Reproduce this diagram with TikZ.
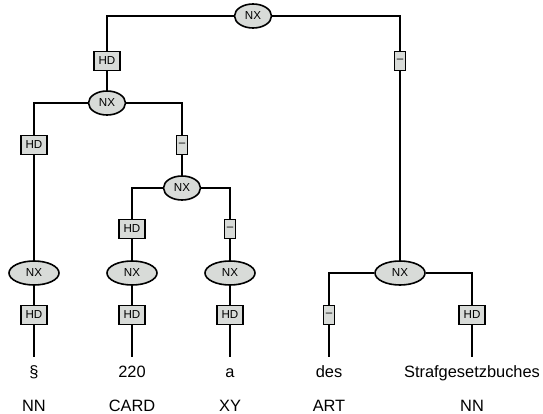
\documentclass[tikz,border=0pt]{standalone}
\usepackage{fontspec}
\setmainfont{Liberation Sans}
\usetikzlibrary{shapes.geometric}
\definecolor{nodegray}{RGB}{216,219,216}
\begin{document}
\begin{tikzpicture}[
  x=0.75pt, y=-0.75pt,
  catnode/.style={ellipse, draw=black, fill=nodegray, line width=1.2pt,
    inner sep=0pt, minimum width=27.75pt, minimum height=18pt,
    font=\fontsize{8.7}{10}\selectfont},
  widecat/.style={catnode, minimum width=37.5pt},
  funcbox/.style={rectangle, draw=black, fill=nodegray, line width=1.2pt,
    inner sep=0pt, minimum width=19.5pt, minimum height=14.25pt,
    font=\fontsize{8.7}{10}\selectfont},
  dashbox/.style={funcbox, minimum width=8.25pt},
  word/.style={anchor=base, inner sep=0pt, text height=15pt,
    font=\fontsize{12.3}{14}\selectfont},
  tag/.style={anchor=base, inner sep=0pt, font=\fontsize{12.3}{14}\selectfont},
  edge/.style={line width=1.2pt, black},
]
\useasboundingbox (0,0) rectangle (543,414);

% Top level
\node[catnode] (nxtop) at (253,16)  {NX};
\node[funcbox] (hdA)   at (107,61)  {HD};
\node[dashbox] (rA)    at (400,61)  {–};

% Left subtree
\node[catnode] (nxL) at (107,103) {NX};
\node[funcbox] (hdB) at (34,145)  {HD};
\node[dashbox] (rB)  at (182,145) {–};
\node[catnode] (nxM) at (182,188) {NX};
\node[funcbox] (hdC) at (132,229) {HD};
\node[dashbox] (rC)  at (230,229) {–};

% Preterminal row
\node[widecat] (nx1) at (34,273)  {NX};
\node[widecat] (nx2) at (132,273) {NX};
\node[widecat] (nx3) at (230,273) {NX};
\node[widecat] (nxR) at (400,273) {NX};

\node[funcbox] (hd1) at (34,315)  {HD};
\node[funcbox] (hd2) at (132,315) {HD};
\node[funcbox] (hd3) at (230,315) {HD};
\node[dashbox] (rD)  at (329,315) {–};
\node[funcbox] (hdD) at (472,315) {HD};

% Words and their tags
\node[word] (w1) at (34,377)  {§};
\node[word] (w2) at (132,377) {220};
\node[word] (w3) at (230,377) {a};
\node[word] (w4) at (329,377) {des};
\node[word] (w5) at (472,377) {Strafgesetzbuches};

\node[tag] (t1) at (34,411)  {NN};
\node[tag] (t2) at (132,411) {CARD};
\node[tag] (t3) at (230,411) {XY};
\node[tag] (t4) at (329,411) {ART};
\node[tag] (t5) at (472,411) {NN};

% Edges
\draw[edge] (nxtop) -| (hdA);
\draw[edge] (hdA) -- (nxL);
\draw[edge] (nxtop) -| (rA);
\draw[edge] (rA) -- (nxR);

\draw[edge] (nxL) -| (hdB);
\draw[edge] (hdB) -- (nx1);
\draw[edge] (nxL) -| (rB);
\draw[edge] (rB) -- (nxM);

\draw[edge] (nxM) -| (hdC);
\draw[edge] (hdC) -- (nx2);
\draw[edge] (nxM) -| (rC);
\draw[edge] (rC) -- (nx3);

\draw[edge] (nx1) -- (hd1);
\draw[edge] (hd1) -- (w1);
\draw[edge] (nx2) -- (hd2);
\draw[edge] (hd2) -- (w2);
\draw[edge] (nx3) -- (hd3);
\draw[edge] (hd3) -- (w3);

\draw[edge] (nxR) -| (rD);
\draw[edge] (rD) -- (w4);
\draw[edge] (nxR) -| (hdD);
\draw[edge] (hdD) -- (w5);
\end{tikzpicture}
\end{document}
